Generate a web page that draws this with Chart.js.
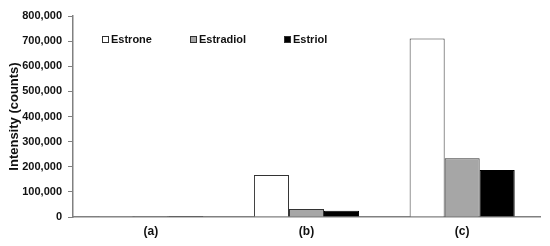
<!DOCTYPE html>
<html>
<head>
<meta charset="utf-8">
<script src="https://cdn.jsdelivr.net/npm/chart.js@4"></script>
<style>
  html, body { margin: 0; padding: 0; background: #fff; }
  #wrap { width: 550px; height: 246px; }
</style>
</head>
<body>
<div id="wrap"><canvas id="myChart"></canvas></div>
<script>
var categories = ['(a)', '(b)', '(c)'];
var seriesNames = ['Estrone', 'Estradiol', 'Estriol'];
var estrone = [600, 167000, 710000];
var estradiol = [400, 32000, 234000];
var estriol = [300, 25000, 187000];

var fills = ['#ffffff', '#a6a6a6', '#000000'];
var fontFamily = '"Liberation Sans", Arial, sans-serif';

// legend drawn inside the plot, like the original figure
var insideLegend = {
    id: 'insideLegend',
    afterDraw: function(chart) {
        var ctx = chart.ctx;
        var xs = [102, 190, 284];
        var y = 40;
        ctx.save();
        ctx.font = 'bold 11px ' + fontFamily;
        ctx.textBaseline = 'middle';
        chart.data.datasets.forEach(function(ds, i) {
            ctx.fillStyle = ds.backgroundColor;
            ctx.fillRect(xs[i] + 0.5, y - 3.5, 6, 6);
            ctx.strokeStyle = '#303030';
            ctx.lineWidth = 1;
            ctx.strokeRect(xs[i] + 0.5, y - 3.5, 6, 6);
            ctx.fillStyle = '#111';
            ctx.fillText(ds.label, xs[i] + 9, y);
        });
        ctx.restore();
    }
};

var config = {
    type: 'bar',
    data: {
        labels: categories,
        datasets: [{
            label: seriesNames[0],
            data: estrone,
            backgroundColor: fills[0],
            borderColor: '#333333',
            borderWidth: 1
        }, {
            label: seriesNames[1],
            data: estradiol,
            backgroundColor: fills[1],
            borderColor: '#333333',
            borderWidth: 1
        }, {
            label: seriesNames[2],
            data: estriol,
            backgroundColor: fills[2],
            borderColor: '#000000',
            borderWidth: 1
        }]
    },
    options: {
        responsive: true,
        maintainAspectRatio: false,
        animation: false,
        layout: {
            padding: { top: 16, right: 10, left: 0, bottom: 0 }
        },
        datasets: {
            bar: { barPercentage: 1, categoryPercentage: 0.675 }
        },
        plugins: {
            legend: { display: false },
            tooltip: { enabled: false }
        },
        scales: {
            x: {
                grid: { display: false, drawTicks: false },
                border: { display: true, color: '#808080', width: 1.5 },
                ticks: {
                    padding: 7,
                    color: '#111',
                    font: { family: fontFamily, size: 12, weight: 'bold' }
                },
                afterFit: function(scale) { scale.height = 29; }
            },
            y: {
                min: 0,
                max: 800000,
                grid: { drawOnChartArea: false, drawTicks: true, tickLength: 5, color: '#808080' },
                border: { display: true, color: '#808080', width: 1.5 },
                ticks: {
                    stepSize: 100000,
                    padding: 6,
                    color: '#111',
                    font: { family: fontFamily, size: 11, weight: 'bold' },
                    callback: function(v) { return v.toLocaleString('en-US'); }
                },
                title: {
                    display: true,
                    text: 'Intensity (counts)',
                    color: '#111',
                    padding: { top: 7, bottom: 0 },
                    font: { family: fontFamily, size: 13, weight: 'bold' }
                },
                afterFit: function(scale) { scale.width = 73; }
            }
        }
    },
    plugins: [insideLegend]
};

window.onload = function() {
    var ctx = document.getElementById('myChart').getContext('2d');
    window.myBar = new Chart(ctx, config);
};
</script>
</body>
</html>
